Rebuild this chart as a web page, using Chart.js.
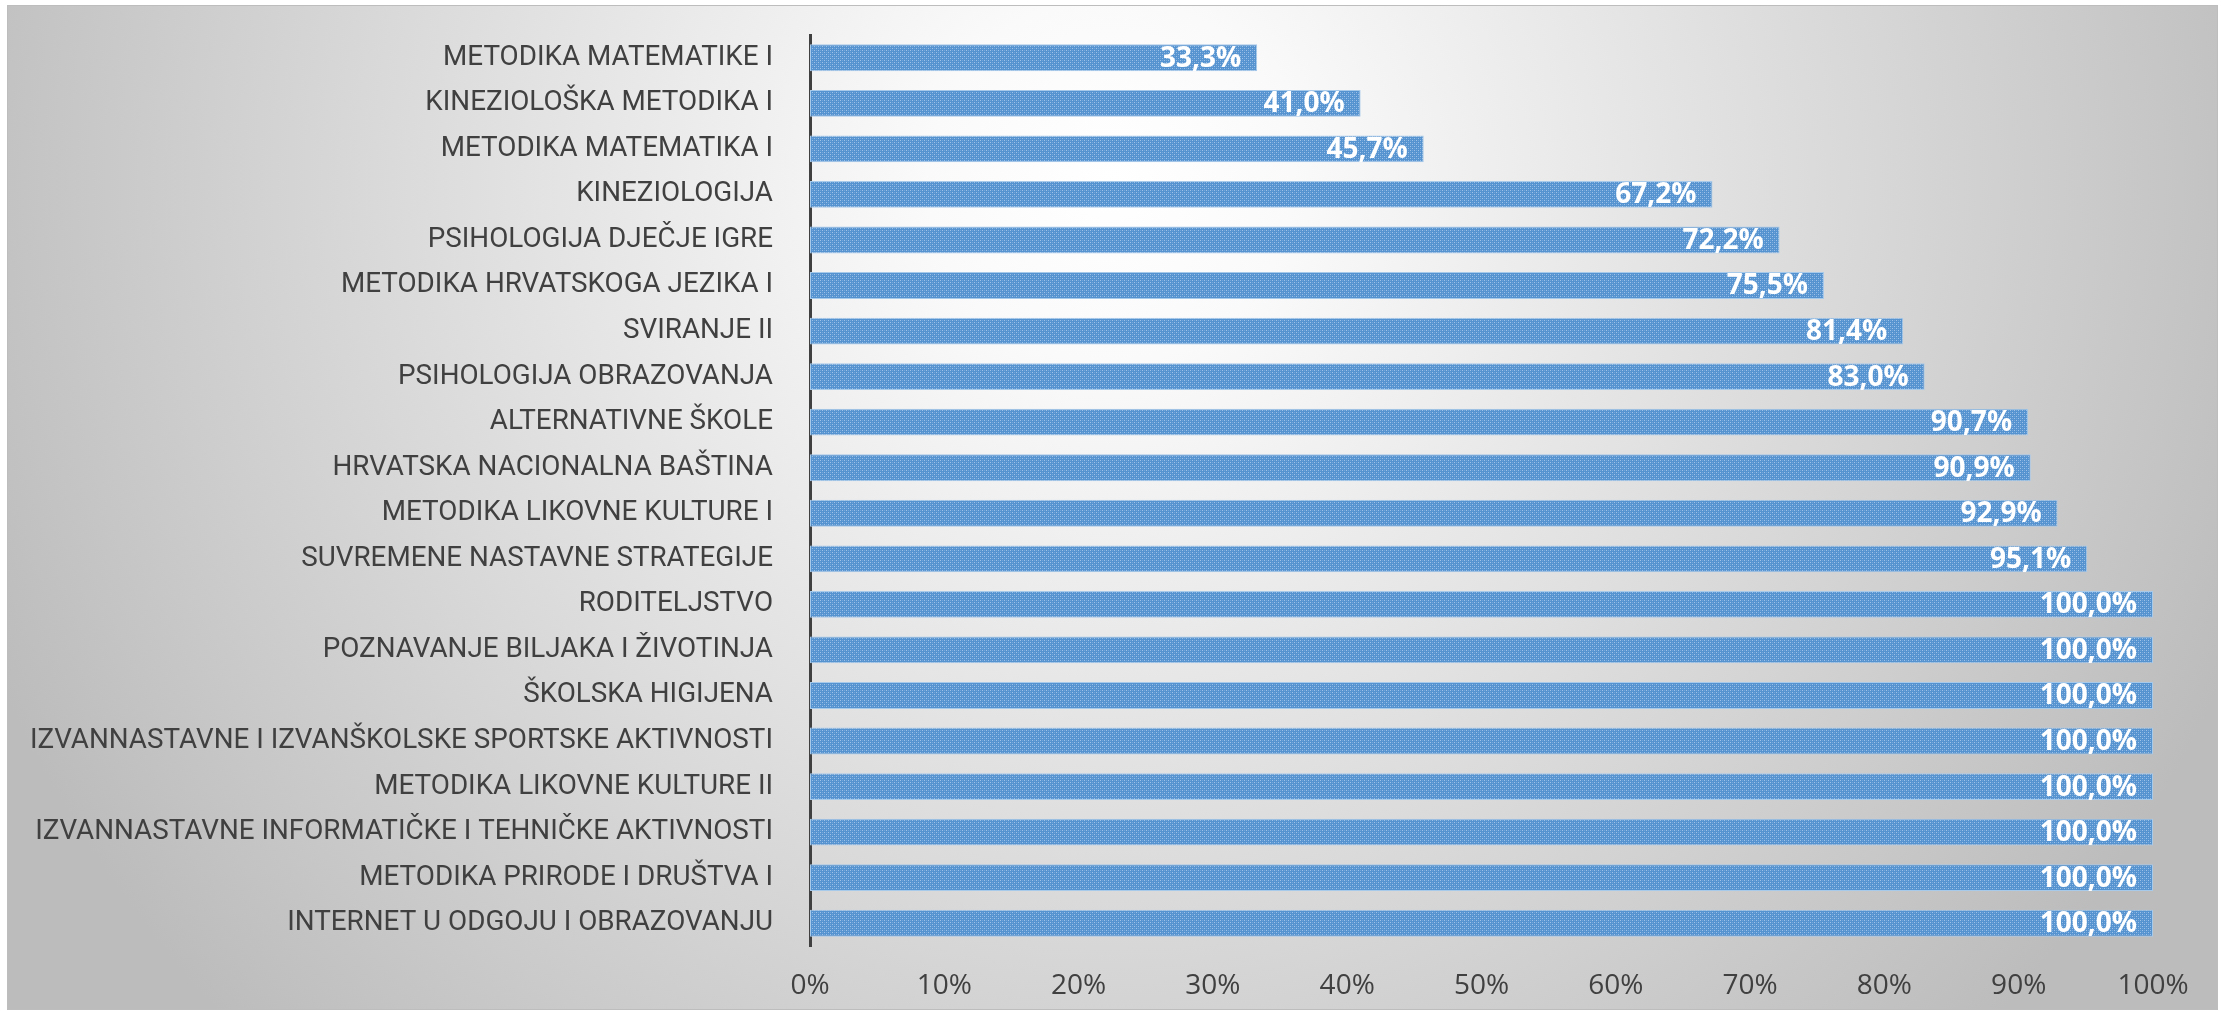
<!DOCTYPE html>
<html>
<head>
<meta charset="utf-8">
<script src="https://cdn.jsdelivr.net/npm/chart.js@4"></script>
<style>
  html, body { margin: 0; padding: 0; background: #ffffff; }
  #wrap { width: 2221px; height: 1015px; }
</style>
</head>
<body>
<div id="wrap"><canvas id="chart" width="2221" height="1015"></canvas></div>
<script>
const subjects = [
    'METODIKA MATEMATIKE I',
    'KINEZIOLOŠKA METODIKA I',
    'METODIKA MATEMATIKA I',
    'KINEZIOLOGIJA',
    'PSIHOLOGIJA DJEČJE IGRE',
    'METODIKA HRVATSKOGA JEZIKA I',
    'SVIRANJE II',
    'PSIHOLOGIJA OBRAZOVANJA',
    'ALTERNATIVNE ŠKOLE',
    'HRVATSKA NACIONALNA BAŠTINA',
    'METODIKA LIKOVNE KULTURE I',
    'SUVREMENE NASTAVNE STRATEGIJE',
    'RODITELJSTVO',
    'POZNAVANJE BILJAKA I ŽIVOTINJA',
    'ŠKOLSKA HIGIJENA',
    'IZVANNASTAVNE I IZVANŠKOLSKE SPORTSKE AKTIVNOSTI',
    'METODIKA LIKOVNE KULTURE II',
    'IZVANNASTAVNE INFORMATIČKE I TEHNIČKE AKTIVNOSTI',
    'METODIKA PRIRODE I DRUŠTVA I',
    'INTERNET U ODGOJU I OBRAZOVANJU'
];
const passRates = [33.3, 41.0, 45.7, 67.2, 72.2, 75.5, 81.4, 83.0, 90.7, 90.9, 92.9, 95.1, 100, 100, 100, 100, 100, 100, 100, 100];
const axisMin = 0;
const axisMax = 100;
const axisStep = 10;

const labelFont = 'Roboto, "Open Sans", sans-serif';
const numFont = '"Open Sans", sans-serif';

// size the category font so the longest label is about as wide as in the original
function fitLabelSize(ctx, maxWidth) {
    ctx.font = '100px ' + labelFont;
    const widest = Math.max(...subjects.map(s => ctx.measureText(s).width));
    return Math.min(30, Math.floor(100 * maxWidth / widest * 10) / 10);
}

// small dotted fill like the Excel pattern
function makeBarPattern(ctx) {
    const tile = document.createElement('canvas');
    tile.width = 4;
    tile.height = 4;
    const t = tile.getContext('2d');
    t.fillStyle = '#5593d0';
    t.fillRect(0, 0, 4, 4);
    t.fillStyle = '#9fc3e8';
    t.fillRect(0, 0, 1, 1);
    t.fillRect(2, 2, 1, 1);
    t.fillStyle = '#74a6da';
    t.fillRect(2, 0, 1, 1);
    t.fillRect(0, 2, 1, 1);
    return ctx.createPattern(tile, 'repeat');
}

const backgroundPlugin = {
    id: 'frameBackground',
    beforeDraw(chart) {
        const ctx = chart.ctx;
        const w = chart.width, h = chart.height;
        ctx.save();
        ctx.fillStyle = '#ffffff';
        ctx.fillRect(0, 0, w, h);
        const g = ctx.createRadialGradient(1110, 180, 0, 1110, 180, 1220);
        g.addColorStop(0, '#ffffff');
        g.addColorStop(0.15, '#fafafa');
        g.addColorStop(1, '#bcbcbc');
        ctx.fillStyle = g;
        ctx.fillRect(7, 5, 2211, 1005);
        ctx.strokeStyle = '#bdbdbd';
        ctx.lineWidth = 1;
        ctx.strokeRect(7.5, 5.5, 2210, 1004);
        ctx.restore();
    }
};

const valueLabelPlugin = {
    id: 'valueLabels',
    afterDatasetsDraw(chart) {
        const ctx = chart.ctx;
        const meta = chart.getDatasetMeta(0);
        ctx.save();
        ctx.font = 'bold 28px ' + numFont;
        ctx.fillStyle = '#ffffff';
        ctx.textAlign = 'right';
        ctx.textBaseline = 'middle';
        meta.data.forEach((bar, i) => {
            const txt = passRates[i].toFixed(1).replace('.', ',') + '%';
            ctx.fillText(txt, bar.x - 16, bar.y + 1);
        });
        ctx.restore();
    }
};

const canvas = document.getElementById('chart');
const ctx = canvas.getContext('2d');
const labelSize = fitLabelSize(ctx, 744);

new Chart(ctx, {
    type: 'bar',
    data: {
        labels: subjects,
        datasets: [{
            data: passRates,
            backgroundColor: makeBarPattern(ctx),
            borderColor: '#a7c9ea',
            borderWidth: 1,
            borderSkipped: false,
            categoryPercentage: 1,
            barPercentage: 0.59
        }]
    },
    options: {
        indexAxis: 'y',
        responsive: false,
        devicePixelRatio: 1,
        animation: false,
        events: [],
        layout: { padding: { left: 8, right: 68, top: 35, bottom: 10 } },
        plugins: {
            legend: { display: false },
            tooltip: { enabled: false }
        },
        scales: {
            x: {
                min: axisMin,
                max: axisMax,
                grid: { display: false },
                border: { display: false },
                ticks: {
                    stepSize: axisStep,
                    padding: 15,
                    color: '#404040',
                    font: { family: numFont, size: 28 },
                    maxRotation: 0,
                    callback: v => v + '%'
                },
                afterFit: scale => { scale.height = 59; }
            },
            y: {
                grid: { display: false, drawTicks: false },
                border: { display: true, color: '#404040', width: 3 },
                ticks: {
                    padding: 37,
                    color: '#404040',
                    font: { family: labelFont, size: labelSize },
                    autoSkip: false
                },
                afterFit: scale => {
                    scale.width = 802;
                    scale.paddingTop = 0;
                    scale.paddingBottom = 0;
                }
            }
        }
    },
    plugins: [backgroundPlugin, valueLabelPlugin]
});
</script>
</body>
</html>
